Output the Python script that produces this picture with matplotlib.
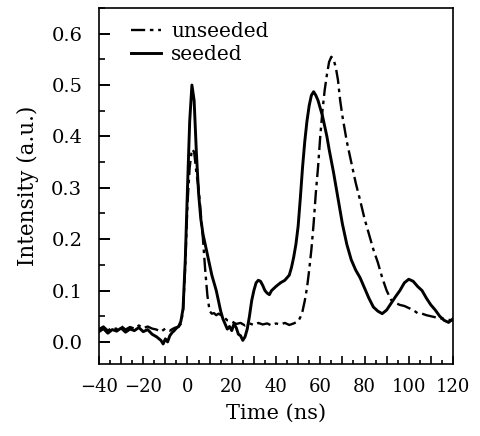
import matplotlib
matplotlib.use('Agg')
from matplotlib import pyplot as plt
from matplotlib.ticker import MultipleLocator, FuncFormatter

# seeded (solid) trace
t_seeded = [-40, -38, -36, -34, -32, -30, -28, -26, -24, -22, -20, -18, -16, -14, -12, -11,
            -10, -9, -8, -7, -6, -5, -4, -3, -2, -1, 0, 1, 2, 3, 4, 5, 6, 7, 8, 9, 10, 11,
            12, 13, 14, 15, 16, 17, 18, 19, 20, 21, 22, 23, 24, 25, 26, 27, 28, 29, 30, 31,
            32, 33, 34, 35, 36, 37, 38, 40, 42, 44, 46, 47, 48, 49, 50, 51, 52, 53, 54, 55,
            56, 57, 58, 59, 60, 61, 62, 63, 64, 66, 68, 70, 72, 74, 76, 78, 80, 82, 84, 86,
            88, 90, 92, 94, 96, 98, 100, 102, 104, 106, 108, 110, 112, 114, 116, 118, 120]
i_seeded = [0.020, 0.026, 0.017, 0.024, 0.021, 0.027, 0.019, 0.025, 0.022, 0.028, 0.020,
            0.024, 0.015, 0.010, 0.003, -0.004, 0.006, 0.000, 0.012, 0.018, 0.022, 0.027,
            0.030, 0.040, 0.065, 0.16, 0.30, 0.43, 0.50, 0.47, 0.37, 0.29, 0.24, 0.21, 0.19,
            0.17, 0.15, 0.13, 0.115, 0.10, 0.08, 0.06, 0.045, 0.035, 0.025, 0.030, 0.022,
            0.035, 0.028, 0.015, 0.012, 0.003, 0.010, 0.025, 0.05, 0.08, 0.10, 0.115, 0.12,
            0.118, 0.11, 0.10, 0.095, 0.092, 0.10, 0.108, 0.115, 0.12, 0.13, 0.145, 0.165,
            0.19, 0.225, 0.28, 0.34, 0.39, 0.43, 0.46, 0.48, 0.487, 0.48, 0.47, 0.455, 0.44,
            0.42, 0.40, 0.375, 0.33, 0.28, 0.23, 0.19, 0.16, 0.14, 0.125, 0.105, 0.085,
            0.068, 0.06, 0.055, 0.062, 0.075, 0.088, 0.10, 0.115, 0.122, 0.118, 0.108, 0.10,
            0.085, 0.072, 0.062, 0.05, 0.042, 0.038, 0.045]

# unseeded (dash-dot) trace
t_unseeded = [-40, -38, -36, -34, -32, -30, -28, -26, -24, -22, -20, -18, -16, -14, -12,
              -10, -8, -6, -4, -3, -2, -1, 0, 1, 2, 3, 4, 5, 6, 7, 8, 9, 10, 11, 12, 13, 14,
              16, 18, 20, 22, 24, 26, 28, 30, 32, 34, 36, 38, 40, 42, 44, 46, 48, 50, 51, 52,
              53, 54, 55, 56, 57, 58, 59, 60, 61, 62, 63, 64, 65, 66, 67, 68, 69, 70, 72, 74,
              76, 78, 80, 82, 84, 86, 88, 90, 92, 94, 96, 98, 100, 102, 104, 106, 108, 110,
              112, 114, 116, 118, 120]
i_unseeded = [0.025, 0.030, 0.022, 0.028, 0.025, 0.031, 0.024, 0.029, 0.026, 0.032, 0.027,
              0.030, 0.026, 0.024, 0.020, 0.026, 0.022, 0.027, 0.030, 0.035, 0.06, 0.15,
              0.27, 0.34, 0.375, 0.37, 0.33, 0.30, 0.25, 0.20, 0.14, 0.09, 0.06, 0.055,
              0.056, 0.052, 0.055, 0.05, 0.042, 0.04, 0.035, 0.037, 0.032, 0.036, 0.033,
              0.037, 0.034, 0.036, 0.032, 0.036, 0.034, 0.037, 0.033, 0.036, 0.04, 0.048,
              0.06, 0.08, 0.105, 0.14, 0.18, 0.23, 0.29, 0.34, 0.40, 0.45, 0.49, 0.52, 0.545,
              0.555, 0.55, 0.535, 0.51, 0.47, 0.44, 0.39, 0.35, 0.31, 0.276, 0.24, 0.21,
              0.18, 0.155, 0.125, 0.10, 0.082, 0.076, 0.072, 0.07, 0.066, 0.062, 0.056,
              0.055, 0.052, 0.05, 0.048, 0.046, 0.045, 0.043, 0.042]

plt.rcParams['font.family'] = ['DejaVu Serif']

fig = plt.figure(figsize=(4.81, 4.36), dpi=100)
ax = fig.add_axes([0.2058, 0.1651, 0.736, 0.8166])

ax.plot(t_unseeded, i_unseeded, color='black', lw=1.7, linestyle=(0, (6, 2, 1.5, 2)),
        label='unseeded')
ax.plot(t_seeded, i_seeded, color='black', lw=2.1, label='seeded')

ax.set_xlim(-40, 120)
ax.set_ylim(-0.043, 0.65)

ax.xaxis.set_major_locator(MultipleLocator(10))
ax.xaxis.set_minor_locator(MultipleLocator(5))
ax.xaxis.set_major_formatter(FuncFormatter(
    lambda v, p: '' if round(v) % 20 else f'{int(round(v))}'.replace('-', '\u2212')))
ax.yaxis.set_major_locator(MultipleLocator(0.1))
ax.yaxis.set_minor_locator(MultipleLocator(0.05))
ax.yaxis.set_major_formatter(FuncFormatter(lambda v, p: f'{v:.1f}'))

ax.tick_params(axis='x', which='major', direction='in', length=6, width=1.2,
               labelsize=13, pad=10, top=False)
ax.tick_params(axis='x', which='minor', direction='in', length=3, width=1.2, top=False)
ax.tick_params(axis='y', which='major', direction='in', length=8, width=1.4,
               labelsize=14, pad=12, right=False)
ax.tick_params(axis='y', which='minor', direction='in', length=4, width=1.2, right=False)
for s in ax.spines.values():
    s.set_linewidth(1.2)

ax.set_xlabel('Time (ns)', fontsize=15, labelpad=6)
ax.set_ylabel('Intensity (a.u.)', fontsize=15.5, labelpad=9)

ax.legend(loc='upper left', frameon=False, fontsize=14.5, handlelength=1.5,
          handletextpad=0.5, labelspacing=0.2, borderaxespad=0.3,
          bbox_to_anchor=(0.05, 1.0))

fig.savefig('out.png', dpi=100)
